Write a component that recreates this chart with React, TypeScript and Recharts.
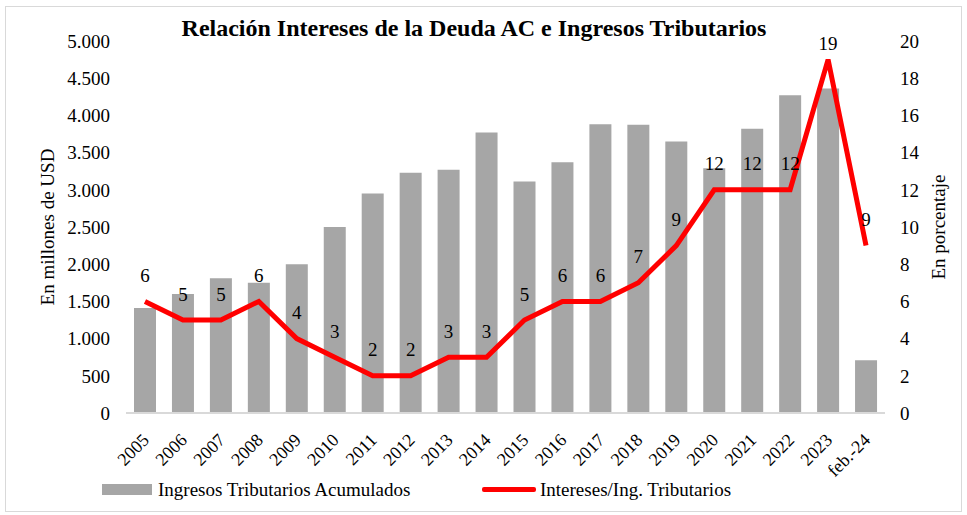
import { Bar, ComposedChart, LabelList, Line, XAxis, YAxis } from "recharts";

const periods = [
  "2005", "2006", "2007", "2008", "2009", "2010", "2011", "2012", "2013", "2014",
  "2015", "2016", "2017", "2018", "2019", "2020", "2021", "2022", "2023", "feb.-24",
];
const ingresos = [
  1410, 1600, 1810, 1750, 2000, 2500, 2950, 3230, 3270, 3770,
  3110, 3370, 3880, 3875, 3650, 3290, 3820, 4270, 4360, 710,
];
const intereses = [6, 5, 5, 6, 4, 3, 2, 2, 3, 3, 5, 6, 6, 7, 9, 12, 12, 12, 19, 9];
const leftTicks = [0, 500, 1000, 1500, 2000, 2500, 3000, 3500, 4000, 4500, 5000];
const rightTicks = [0, 2, 4, 6, 8, 10, 12, 14, 16, 18, 20];

const barName = "Ingresos Tributarios Acumulados";
const lineName = "Intereses/Ing. Tributarios";

const data = periods.map((p, i) => ({ period: p, ingresos: ingresos[i], intereses: intereses[i] }));

const FONT = "'Liberation Serif', 'Times New Roman', serif";
const fmt = (v: number) => v.toLocaleString("de-DE");

const XTick = (props: any) => {
  const { x, y, payload } = props;
  const ax = x + 1;
  const ay = y + 16;
  return (
    <text
      x={ax}
      y={ay}
      textAnchor="end"
      dominantBaseline="central"
      transform={`rotate(-45, ${ax}, ${ay})`}
      fontSize={18}
      fontFamily={FONT}
      fill="#000"
    >
      {payload.value}
    </text>
  );
};

const PointLabel = (props: any) => {
  const { x, y, value } = props;
  const ly = Math.max(y - 26, 43);
  return (
    <text x={x} y={ly} textAnchor="middle" dominantBaseline="central" fontSize={19} fontFamily={FONT} fill="#000">
      {value}
    </text>
  );
};

export default function App() {
  return (
    <div style={{ position: "absolute", left: 0, top: 0, width: 967, height: 515, background: "#fff", fontFamily: FONT }}>
      <div
        style={{
          position: "absolute",
          left: 5,
          top: 6,
          width: 957,
          height: 506,
          border: "1px solid #d9d9d9",
          boxSizing: "border-box",
        }}
      />
      <div
        style={{
          position: "absolute",
          left: 0,
          width: 948,
          top: 13,
          textAlign: "center",
          fontWeight: "bold",
          fontSize: 24,
          lineHeight: "30px",
        }}
      >
        Relación Intereses de la Deuda AC e Ingresos Tributarios
      </div>
      <ComposedChart
        width={967}
        height={515}
        data={data}
        margin={{ top: 41, right: 0, bottom: 0, left: 0 }}
        style={{ position: "absolute", left: 0, top: 0 }}
      >
        <XAxis
          dataKey="period"
          height={102}
          interval={0}
          tick={<XTick />}
          tickLine={false}
          axisLine={{ stroke: "#d9d9d9", strokeWidth: 2 }}
        />
        <YAxis
          yAxisId="left"
          width={126}
          domain={[0, 5000]}
          ticks={leftTicks}
          tickFormatter={fmt}
          tickLine={false}
          tickSize={0}
          tickMargin={16}
          axisLine={false}
          tick={{ fontSize: 19, fontFamily: FONT, fill: "#000" }}
          label={{
            value: "En millones de USD",
            angle: -90,
            position: "insideLeft",
            offset: 47,
            style: { fontSize: 19, fontFamily: FONT, fill: "#000", textAnchor: "middle" },
          }}
        />
        <YAxis
          yAxisId="right"
          orientation="right"
          width={82}
          domain={[0, 20]}
          ticks={rightTicks}
          tickLine={false}
          tickSize={0}
          tickMargin={15}
          axisLine={false}
          tick={{ fontSize: 19, fontFamily: FONT, fill: "#000", textAnchor: "start" }}
          label={{
            value: "En porcentaje",
            angle: -90,
            position: "insideRight",
            offset: 29,
            style: { fontSize: 19, fontFamily: FONT, fill: "#000", textAnchor: "middle" },
          }}
        />
        <Bar yAxisId="left" dataKey="ingresos" name={barName} fill="#a6a6a6" barSize={22} isAnimationActive={false} />
        <Line
          yAxisId="right"
          dataKey="intereses"
          name={lineName}
          stroke="#ff0000"
          strokeWidth={5}
          dot={false}
          type="linear"
          isAnimationActive={false}
        >
          <LabelList dataKey="intereses" content={<PointLabel />} />
        </Line>
      </ComposedChart>
      <div style={{ position: "absolute", left: 102, top: 484, width: 50, height: 11, background: "#a6a6a6" }} />
      <div style={{ position: "absolute", left: 158, top: 478, fontSize: 19, lineHeight: "24px" }}>{barName}</div>
      <div style={{ position: "absolute", left: 482, top: 487, width: 54, height: 5, background: "#ff0000", borderRadius: 2 }} />
      <div style={{ position: "absolute", left: 540, top: 478, fontSize: 19, lineHeight: "24px" }}>{lineName}</div>
    </div>
  );
}
